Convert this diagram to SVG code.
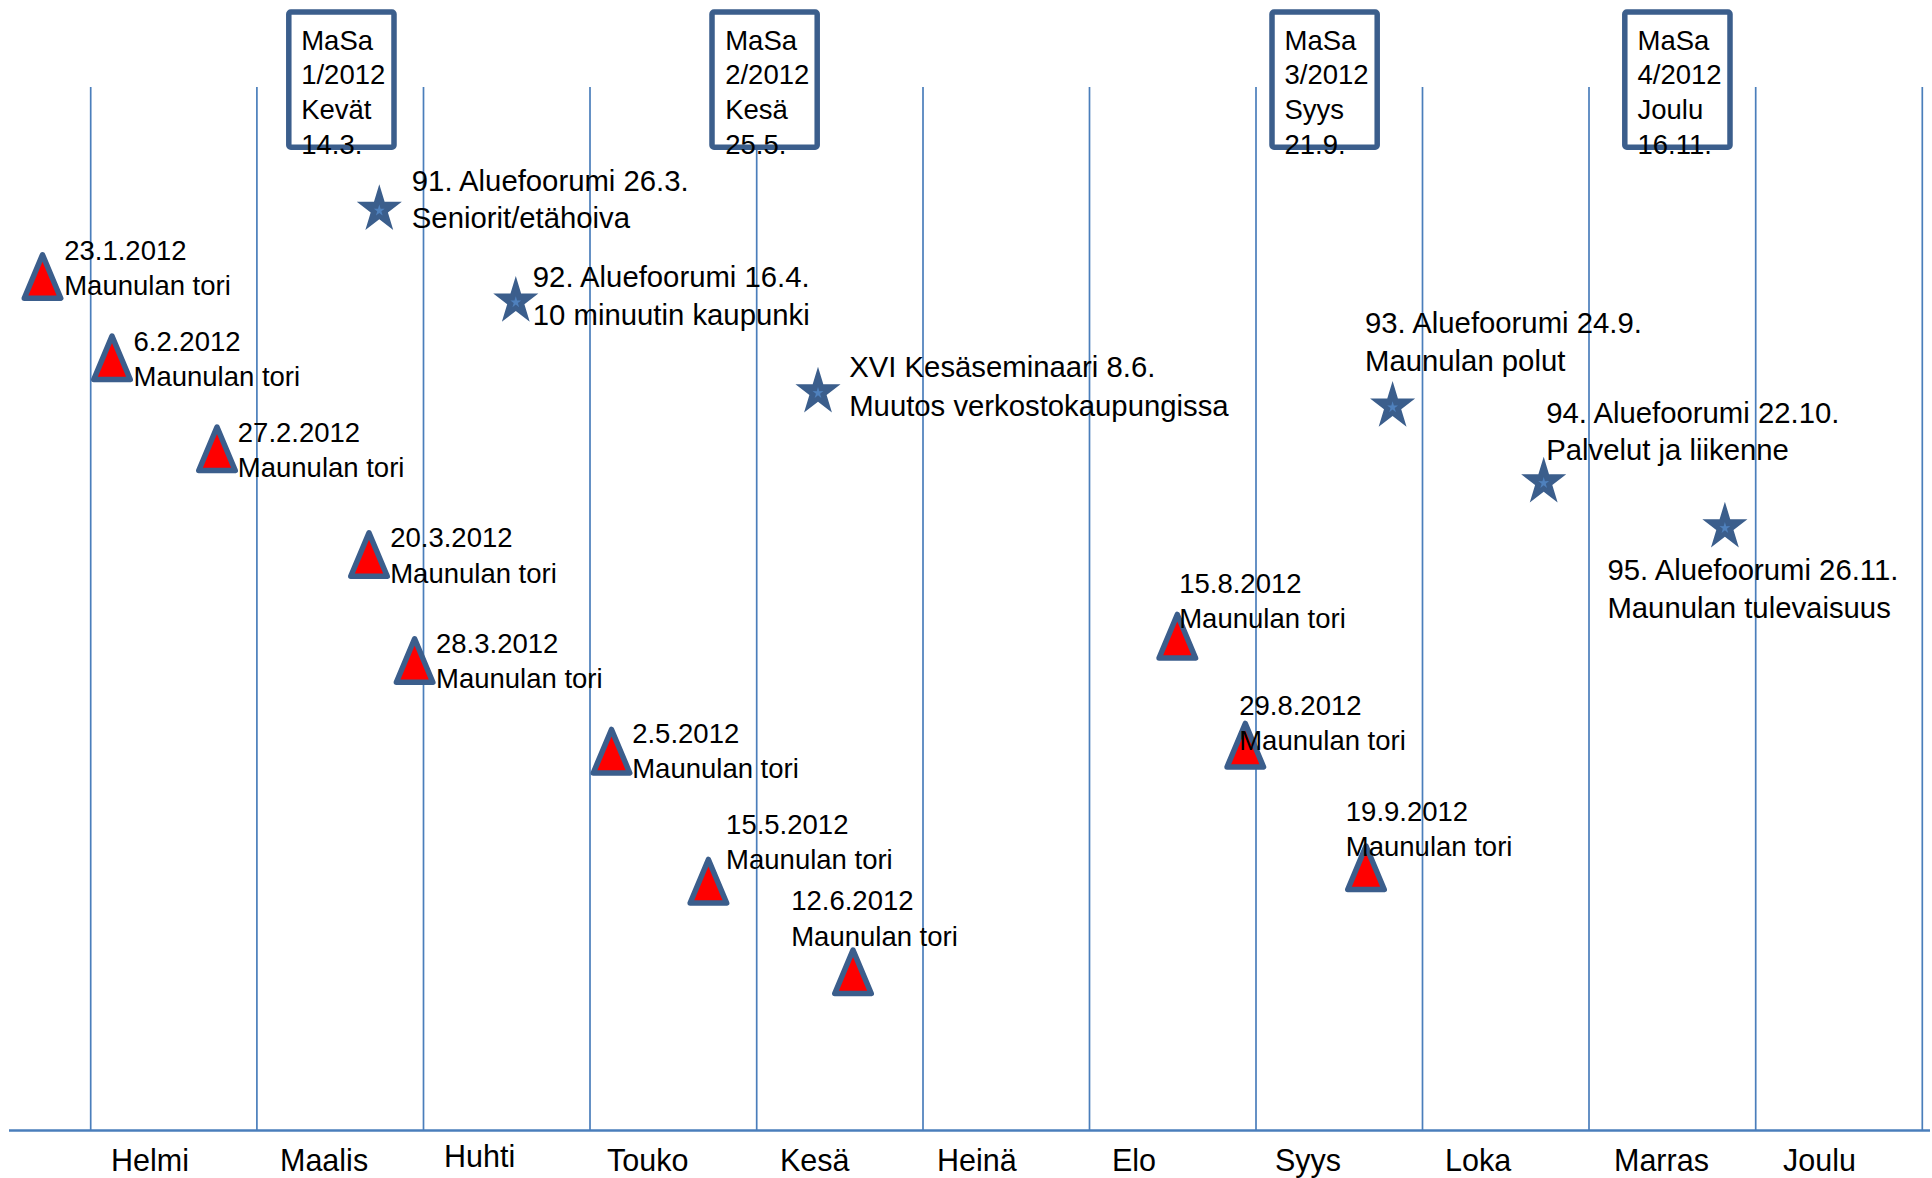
<svg xmlns="http://www.w3.org/2000/svg" xmlns:xlink="http://www.w3.org/1999/xlink" width="1932" height="1178" viewBox="0 0 1932 1178">
<defs>
<style>
.grid{stroke:#4A7EBB;stroke-width:1.7;fill:none}
.axis{stroke:#4A7EBB;stroke-width:2.6;fill:none}
.box{fill:#FFFFFF;stroke:#3B5E8C;stroke-width:5.5}
.t{font-family:"Liberation Sans",Arial,sans-serif;fill:#000}
.tt{font-size:27.5px}
.ts{font-size:29.3px}
.tm{font-size:30.5px}
.tri{fill:#FF0000;stroke:#3B5E8C;stroke-width:5.5;stroke-linejoin:round}
.star{fill:#3B5E8C}
.stari{fill:#4F81BD}
</style>
<path id="tri" class="tri" d="M0,2.75 L18.25,46.25 L-18.25,46.25 Z"/>
<g id="star">
<polygon class="star" points="0,-25.3 5.32,-7.81 22.54,-7.82 8.61,2.98 13.93,20.47 0,9.66 -13.93,20.47 -8.61,2.98 -22.54,-7.82 -5.32,-7.81"/>
<polygon class="stari" transform="translate(0,1) scale(0.24)" points="0,-25.3 5.32,-7.81 22.54,-7.82 8.61,2.98 13.93,20.47 0,9.66 -13.93,20.47 -8.61,2.98 -22.54,-7.82 -5.32,-7.81"/>
</g>
</defs>
<rect x="0" y="0" width="1932" height="1178" fill="#FFFFFF"/>
<g id="connectors">
<line class="grid" x1="90.7" y1="87" x2="90.7" y2="1130"/>
<line class="grid" x1="256.9" y1="87" x2="256.9" y2="1130"/>
<line class="grid" x1="423.5" y1="87" x2="423.5" y2="1130"/>
<line class="grid" x1="590" y1="87" x2="590" y2="1130"/>
<line class="grid" x1="756.7" y1="87" x2="756.7" y2="1130"/>
<line class="grid" x1="923" y1="87" x2="923" y2="1130"/>
<line class="grid" x1="1089.5" y1="87" x2="1089.5" y2="1130"/>
<line class="grid" x1="1256" y1="87" x2="1256" y2="1130"/>
<line class="grid" x1="1422.5" y1="87" x2="1422.5" y2="1130"/>
<line class="grid" x1="1589" y1="87" x2="1589" y2="1130"/>
<line class="grid" x1="1755.7" y1="87" x2="1755.7" y2="1130"/>
<line class="grid" x1="1922.3" y1="87" x2="1922.3" y2="1130" stroke-width="2.2"/>
<line class="axis" x1="9" y1="1130.5" x2="1930" y2="1130.5"/>
</g>
<g id="masa1">
<rect class="box" x="288.8" y="12" width="105.2" height="135.2" rx="2"/>
<text class="t tt"><tspan x="301.2" y="49.5">MaSa</tspan><tspan x="301.2" y="84.3">1/2012</tspan><tspan x="301.2" y="119">Kevät</tspan><tspan x="301.2" y="153.8">14.3.</tspan></text>
</g>
<g id="masa2">
<rect class="box" x="712" y="12" width="105.2" height="135.2" rx="2"/>
<text class="t tt"><tspan x="725.2" y="49.5">MaSa</tspan><tspan x="725.2" y="84.3">2/2012</tspan><tspan x="725.2" y="119">Kesä</tspan><tspan x="725.2" y="153.8">25.5.</tspan></text>
</g>
<g id="masa3">
<rect class="box" x="1272" y="12" width="105.2" height="135.2" rx="2"/>
<text class="t tt"><tspan x="1284.5" y="49.5">MaSa</tspan><tspan x="1284.5" y="84.3">3/2012</tspan><tspan x="1284.5" y="119">Syys</tspan><tspan x="1284.5" y="153.8">21.9.</tspan></text>
</g>
<g id="masa4">
<rect class="box" x="1624.8" y="12" width="105.2" height="135.2" rx="2"/>
<text class="t tt"><tspan x="1637.5" y="49.5">MaSa</tspan><tspan x="1637.5" y="84.3">4/2012</tspan><tspan x="1637.5" y="119">Joulu</tspan><tspan x="1637.5" y="153.8">16.11.</tspan></text>
</g>
<g id="tori1"><use xlink:href="#tri" href="#tri" x="42.5" y="252"/><text class="t tt"><tspan x="64.2" y="260">23.1.2012</tspan><tspan x="64.2" y="295">Maunulan tori</tspan></text></g>
<g id="tori2"><use xlink:href="#tri" href="#tri" x="112" y="333.3"/><text class="t tt"><tspan x="133.5" y="350.7">6.2.2012</tspan><tspan x="133.5" y="386">Maunulan tori</tspan></text></g>
<g id="tori3"><use xlink:href="#tri" href="#tri" x="217" y="424.3"/><text class="t tt"><tspan x="237.8" y="441.7">27.2.2012</tspan><tspan x="237.8" y="476.7">Maunulan tori</tspan></text></g>
<g id="tori4"><use xlink:href="#tri" href="#tri" x="369" y="530"/><text class="t tt"><tspan x="390.2" y="547.3">20.3.2012</tspan><tspan x="390.2" y="582.7">Maunulan tori</tspan></text></g>
<g id="tori5"><use xlink:href="#tri" href="#tri" x="414.6" y="636"/><text class="t tt"><tspan x="436" y="653.3">28.3.2012</tspan><tspan x="436" y="688.3">Maunulan tori</tspan></text></g>
<g id="tori6"><use xlink:href="#tri" href="#tri" x="611.5" y="726.7"/><text class="t tt"><tspan x="632.2" y="743.3">2.5.2012</tspan><tspan x="632.2" y="778.3">Maunulan tori</tspan></text></g>
<g id="tori7"><use xlink:href="#tri" href="#tri" x="708.4" y="856.7"/><text class="t tt"><tspan x="726.1" y="834">15.5.2012</tspan><tspan x="726.1" y="869.3">Maunulan tori</tspan></text></g>
<g id="tori8"><use xlink:href="#tri" href="#tri" x="853" y="947.3"/><text class="t tt"><tspan x="791.2" y="910">12.6.2012</tspan><tspan x="791.2" y="946">Maunulan tori</tspan></text></g>
<g id="tori9"><use xlink:href="#tri" href="#tri" x="1177.3" y="611.7"/><text class="t tt"><tspan x="1179.2" y="593.3">15.8.2012</tspan><tspan x="1179.2" y="628.3">Maunulan tori</tspan></text></g>
<g id="tori10"><use xlink:href="#tri" href="#tri" x="1245.3" y="720.7"/><text class="t tt"><tspan x="1239.2" y="715">29.8.2012</tspan><tspan x="1239.2" y="750">Maunulan tori</tspan></text></g>
<g id="tori11"><use xlink:href="#tri" href="#tri" x="1366" y="843.3"/><text class="t tt"><tspan x="1345.8" y="820.7">19.9.2012</tspan><tspan x="1345.8" y="856">Maunulan tori</tspan></text></g>
<g id="foorumi91"><use xlink:href="#star" href="#star" x="379.3" y="209.6"/><text class="t ts"><tspan x="411.8" y="190.5">91. Aluefoorumi 26.3.</tspan><tspan x="411.8" y="228">Seniorit/etähoiva</tspan></text></g>
<g id="foorumi92"><use xlink:href="#star" href="#star" x="515.8" y="301.3"/><text class="t ts"><tspan x="532.8" y="286.7">92. Aluefoorumi 16.4.</tspan><tspan x="532.8" y="324.7">10 minuutin kaupunki</tspan></text></g>
<g id="kesaseminaari"><use xlink:href="#star" href="#star" x="818" y="392"/><text class="t ts"><tspan x="849.2" y="376.7">XVI Kesäseminaari 8.6.</tspan><tspan x="849.2" y="415.7">Muutos verkostokaupungissa</tspan></text></g>
<g id="foorumi93"><use xlink:href="#star" href="#star" x="1392.6" y="406.3"/><text class="t ts"><tspan x="1365" y="332.7">93. Aluefoorumi 24.9.</tspan><tspan x="1365" y="370.7">Maunulan polut</tspan></text></g>
<g id="foorumi94"><use xlink:href="#star" href="#star" x="1543.7" y="482"/><text class="t ts"><tspan x="1546.2" y="422.7">94. Aluefoorumi 22.10.</tspan><tspan x="1546.2" y="460">Palvelut ja liikenne</tspan></text></g>
<g id="foorumi95"><use xlink:href="#star" href="#star" x="1724.9" y="527"/><text class="t ts"><tspan x="1607.4" y="580">95. Aluefoorumi 26.11.</tspan><tspan x="1607.4" y="618.3">Maunulan tulevaisuus</tspan></text></g>
<g id="months">
<text class="t tm" x="111" y="1171">Helmi</text>
<text class="t tm" x="280" y="1171">Maalis</text>
<text class="t tm" x="444" y="1167">Huhti</text>
<text class="t tm" x="607" y="1171">Touko</text>
<text class="t tm" x="780" y="1171">Kesä</text>
<text class="t tm" x="937" y="1171">Heinä</text>
<text class="t tm" x="1112" y="1171">Elo</text>
<text class="t tm" x="1275" y="1171">Syys</text>
<text class="t tm" x="1445" y="1171">Loka</text>
<text class="t tm" x="1614" y="1171">Marras</text>
<text class="t tm" x="1783" y="1171">Joulu</text>
</g>
</svg>
